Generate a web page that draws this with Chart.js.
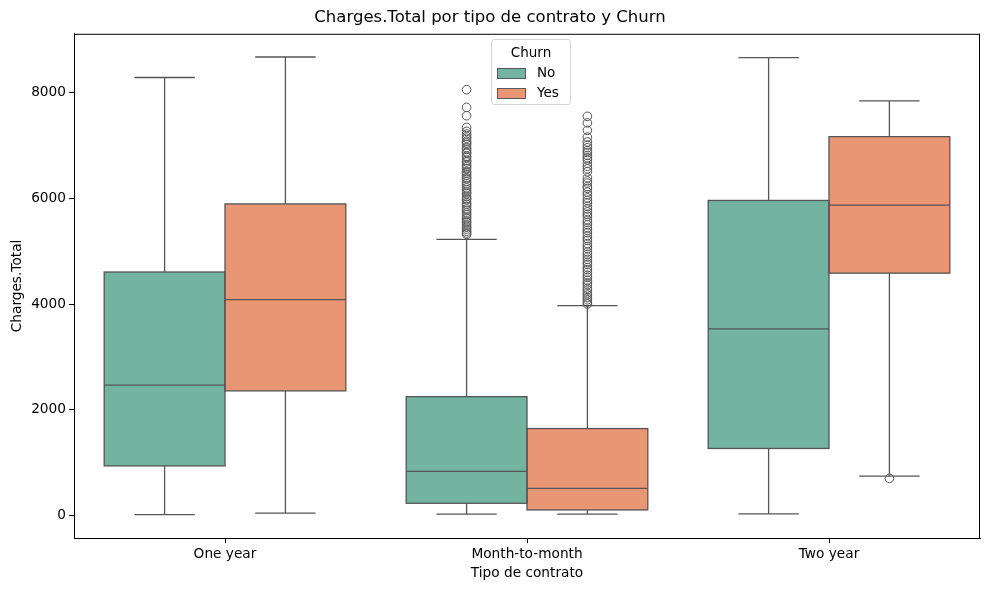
<!DOCTYPE html>
<html>
<head>
<meta charset="utf-8">
<script src="https://cdn.jsdelivr.net/npm/chart.js@4.4.1/dist/chart.umd.min.js"></script>
<style>
  body { margin: 0; background: #fff; }
  #wrap { position: relative; width: 989px; height: 590px; }
  #legend {
    position: absolute; left: 491px; top: 39px; width: 80px; height: 66px;
    box-sizing: border-box; border: 1px solid #d6d6d6; border-radius: 3px;
    background: rgba(255,255,255,0.8);
    font-family: "DejaVu Sans", sans-serif; font-size: 13.5px; color: #000;
  }
  #legend .ttl { position: absolute; left: 0; width: 100%; top: 4px; text-align: center; }
  #legend .row { position: absolute; left: 5px; height: 16px; }
  #legend .sw { position: absolute; left: 0; top: 3px; width: 27px; height: 9px; border: 1px solid #595959; }
  #legend .lb { position: absolute; left: 40px; top: -1px; white-space: nowrap; }
</style>
</head>
<body>
<div id="wrap">
  <canvas id="myChart" width="989" height="590"></canvas>
  <div id="legend">
    <div class="ttl">Churn</div>
    <div class="row" style="top:25px"><div class="sw" style="background:#72b4a0"></div><div class="lb">No</div></div>
    <div class="row" style="top:45px"><div class="sw" style="background:#e99675"></div><div class="lb">Yes</div></div>
  </div>
</div>
<script>
// Categorías y estadísticas de cada caja
const contratos = ["One year", "Month-to-month", "Two year"];
const yTicks = [0, 2000, 4000, 6000, 8000];

const noLow  = [10, 19, 25];
const noQ1   = [934, 226, 1264];
const noMed  = [2464, 830, 3528];
const noQ3   = [4606, 2245, 5962];
const noHigh = [8290, 5226, 8666];
const noOut  = [
    [],
    [8060, 7725, 7566, 7345, 7270, 7220, 7175, 7140, 7085, 7050, 7020, 6965, 6930, 6880, 6855, 6800,
     6775, 6720, 6690, 6640, 6600, 6565, 6510, 6480, 6440, 6395, 6370, 6320, 6280, 6245, 6200, 6165,
     6120, 6090, 6040, 6000, 5975, 5920, 5890, 5850, 5800, 5770, 5725, 5690, 5650, 5615, 5570, 5540,
     5495, 5455, 5420, 5380, 5345, 5320],
    []
];

const yesLow  = [38, 19, 742];
const yesQ1   = [2355, 100, 4585];
const yesMed  = [4085, 509, 5874];
const yesQ3   = [5896, 1641, 7170];
const yesHigh = [8679, 3968, 7849];
const yesOut  = [
    [],
    [7555, 7430, 7290, 7160, 7070, 7010, 6960, 6905, 6870, 6815, 6770, 6730, 6665, 6610, 6560, 6505,
     6390, 6330, 6290, 6225, 6190, 6120, 6070, 6010, 5960, 5915, 5850, 5800, 5745, 5700, 5660, 5590,
     5545, 5500, 5440, 5395, 5350, 5290, 5240, 5205, 5140, 5090, 5050, 4985, 4940, 4890, 4845, 4790,
     4750, 4690, 4650, 4600, 4545, 4505, 4450, 4400, 4360, 4300, 4265, 4210, 4170, 4120, 4080, 4035, 4000],
    [698]
];

const lineColor = "#555555";

// Dibuja bigotes, medianas, atípicos y el marco del gráfico
const boxPlugin = {
    id: 'boxParts',
    afterDatasetsDraw(chart) {
        const ctx = chart.ctx;
        const y = chart.scales.y;
        const area = chart.chartArea;
        ctx.save();
        ctx.strokeStyle = lineColor;
        ctx.lineWidth = 1.3;
        chart.data.datasets.forEach((ds, di) => {
            const meta = chart.getDatasetMeta(di);
            meta.data.forEach((bar, i) => {
                const half = bar.width / 2;
                const x = bar.x;
                const pLow = y.getPixelForValue(ds.low[i]);
                const pHigh = y.getPixelForValue(ds.high[i]);
                const pQ1 = y.getPixelForValue(ds.data[i][0]);
                const pQ3 = y.getPixelForValue(ds.data[i][1]);
                const pMed = y.getPixelForValue(ds.med[i]);
                ctx.beginPath();
                ctx.moveTo(x, pQ3); ctx.lineTo(x, pHigh);
                ctx.moveTo(x - half / 2, pHigh); ctx.lineTo(x + half / 2, pHigh);
                ctx.moveTo(x, pQ1); ctx.lineTo(x, pLow);
                ctx.moveTo(x - half / 2, pLow); ctx.lineTo(x + half / 2, pLow);
                ctx.moveTo(x - half, pMed); ctx.lineTo(x + half, pMed);
                ctx.stroke();
                // caja con trazo centrado en el borde, como en matplotlib
                ctx.strokeRect(x - half, pQ3, bar.width, pQ1 - pQ3);
                ctx.lineWidth = 1;
                ds.out[i].forEach(v => {
                    ctx.beginPath();
                    ctx.arc(x, y.getPixelForValue(v), 4.3, 0, Math.PI * 2);
                    ctx.stroke();
                });
                ctx.lineWidth = 1.3;
            });
        });
        ctx.strokeStyle = '#000';
        ctx.lineWidth = 1;
        ctx.beginPath();
        ctx.moveTo(area.left, area.top + 0.5); ctx.lineTo(area.right, area.top + 0.5);
        ctx.moveTo(area.right - 0.5, area.top); ctx.lineTo(area.right - 0.5, area.bottom);
        ctx.stroke();
        ctx.restore();
    }
};

const font = { family: "DejaVu Sans", size: 13.7 };

const config = {
    type: "bar",
    data: {
        labels: contratos,
        datasets: [
            {
                label: "No",
                data: noQ1.map((q, i) => [q, noQ3[i]]),
                low: noLow, med: noMed, high: noHigh, out: noOut,
                backgroundColor: "#72b4a0",
                borderWidth: 0,
            },
            {
                label: "Yes",
                data: yesQ1.map((q, i) => [q, yesQ3[i]]),
                low: yesLow, med: yesMed, high: yesHigh, out: yesOut,
                backgroundColor: "#e99675",
                borderWidth: 0,
            },
        ],
    },
    options: {
        responsive: false,
        animation: false,
        datasets: { bar: { categoryPercentage: 0.8, barPercentage: 1.0 } },
        layout: { padding: { left: 0, right: 9, top: 0, bottom: 2 } },
        plugins: {
            legend: { display: false },
            tooltip: { enabled: false },
            title: {
                display: true,
                text: "Charges.Total por tipo de contrato y Churn",
                color: "#000",
                font: { family: "DejaVu Sans", size: 16.5, weight: "normal" },
                padding: { top: 8, bottom: 6 },
            },
        },
        scales: {
            x: {
                grid: { display: true, offset: false, drawOnChartArea: false, drawTicks: true, tickLength: 5, color: "#000" },
                border: { display: true, color: "#000", width: 1 },
                ticks: { color: "#000", font: font, padding: 3, maxRotation: 0 },
                title: { display: true, text: "Tipo de contrato", color: "#000", font: font, padding: { top: 0, bottom: 6 } },
            },
            y: {
                min: -434,
                max: 9118,
                afterBuildTicks: (scale) => { scale.ticks = yTicks.map(v => ({ value: v })); },
                afterFit: (scale) => { scale.width = 74; },
                grid: { display: true, drawOnChartArea: false, drawTicks: true, tickLength: 5, color: "#000" },
                border: { display: true, color: "#000", width: 1 },
                ticks: { color: "#000", font: font, padding: 3, callback: v => String(v) },
                title: { display: true, text: "Charges.Total", color: "#000", font: font, padding: { top: 9, bottom: 4 } },
            },
        },
    },
    plugins: [boxPlugin],
};

const ctx = document.getElementById('myChart').getContext('2d');
const myChart = new Chart(ctx, config);
</script>
</body>
</html>
